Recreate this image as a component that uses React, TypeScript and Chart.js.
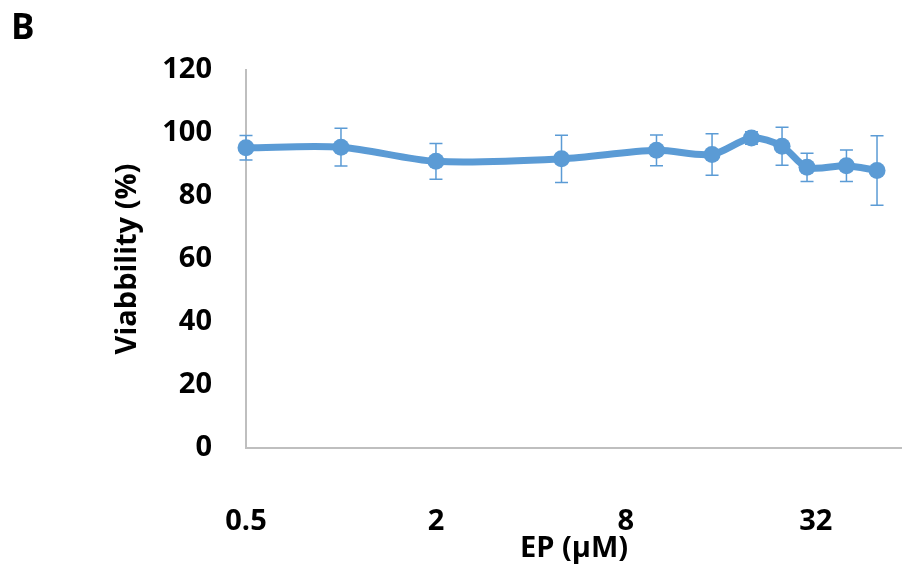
import React, { useEffect, useRef } from 'react';
import { Chart, registerables } from 'chart.js';

Chart.register(...registerables);

const concentrations = [0.5, 1, 2, 5, 10, 15, 20, 25, 30, 40, 50];
const viability = [95.3, 95.5, 91.0, 91.8, 94.5, 93.2, 98.4, 95.8, 89.1, 89.6, 88.1];
const errors = [3.9, 6.0, 5.7, 7.5, 4.9, 6.6, 2.0, 6.0, 4.5, 5.0, 11.0];
const xTicks = [0.5, 2, 8, 32];
const yTicks = [0, 20, 40, 60, 80, 100, 120];

const COLOR = '#5B9BD5';
const AXIS = '#BFBFBF';
const FONT = 'Open Sans';

const errorBarPlugin = {
  id: 'errorBars',
  beforeDatasetsDraw(chart: any) {
    const { ctx, scales } = chart;
    const x = scales.x;
    const y = scales.y;
    ctx.save();
    ctx.strokeStyle = COLOR;
    ctx.lineWidth = 1.5;
    concentrations.forEach((c, i) => {
      const px = x.getPixelForValue(c);
      const top = y.getPixelForValue(viability[i] + errors[i]);
      const bot = y.getPixelForValue(viability[i] - errors[i]);
      const cap = 6.5;
      ctx.beginPath();
      ctx.moveTo(px, top);
      ctx.lineTo(px, bot);
      ctx.moveTo(px - cap, top);
      ctx.lineTo(px + cap, top);
      ctx.moveTo(px - cap, bot);
      ctx.lineTo(px + cap, bot);
      ctx.stroke();
    });
    ctx.restore();
  },
};

export default function App() {
  const canvasRef = useRef<HTMLCanvasElement | null>(null);

  useEffect(() => {
    let chart: Chart | null = null;
    let cancelled = false;
    const build = () => {
      if (cancelled || !canvasRef.current) return;
      const tickFont = { family: FONT, size: 29, weight: 'bold' as const };
      chart = new Chart(canvasRef.current, {
        type: 'line',
        data: {
          datasets: [
            {
              label: 'Viability',
              data: concentrations.map((c, i) => ({ x: c, y: viability[i] })),
              borderColor: COLOR,
              backgroundColor: COLOR,
              borderWidth: 7,
              pointRadius: 8.5,
              pointBackgroundColor: COLOR,
              pointBorderColor: COLOR,
              pointBorderWidth: 0,
              tension: 0.3,
              clip: false as any,
            },
          ],
        },
        options: {
          animation: false,
          responsive: false,
          maintainAspectRatio: false,
          layout: { autoPadding: false, padding: { top: 70, left: 0, right: 0, bottom: 0 } },
          plugins: {
            legend: { display: false },
            tooltip: { enabled: false },
            title: { display: false },
          },
          scales: {
            x: {
              type: 'logarithmic',
              min: 0.5,
              max: 60,
              bounds: 'data',
              afterBuildTicks: (s: any) => {
                s.ticks = xTicks.map((v) => ({ value: v }));
              },
              afterFit: (s: any) => {
                s.height = 123;
              },
              grid: { display: false, drawTicks: false },
              border: { display: true, color: AXIS, width: 2 },
              ticks: {
                padding: 56,
                color: '#000',
                font: tickFont,
                autoSkip: false,
                maxRotation: 0,
                callback: (v: any) => String(v),
              },
              title: {
                display: true,
                text: 'EP (μM)',
                color: '#000',
                font: tickFont,
                padding: { top: 0, bottom: 5 },
              },
            },
            y: {
              type: 'linear',
              min: 0,
              max: 120,
              afterBuildTicks: (s: any) => {
                s.ticks = yTicks.map((v) => ({ value: v }));
              },
              afterFit: (s: any) => {
                s.width = 246;
              },
              grid: { display: false, drawTicks: false },
              border: { display: true, color: AXIS, width: 2 },
              ticks: {
                padding: 34,
                color: '#000',
                font: tickFont,
              },
              title: {
                display: true,
                text: 'Viabbility (%)',
                color: '#000',
                font: tickFont,
                padding: { top: 110, bottom: 0 },
              },
            },
          },
        } as any,
        plugins: [errorBarPlugin],
      });
    };
    const fonts: any = (document as any).fonts;
    if (fonts && fonts.load) {
      fonts.load(`bold 29px "${FONT}"`).then(build, build);
    } else {
      build();
    }
    return () => {
      cancelled = true;
      if (chart) chart.destroy();
    };
  }, []);

  return (
    <div style={{ position: 'absolute', left: 0, top: 0, width: 902, height: 571, background: '#fff' }}>
      <div
        style={{
          position: 'absolute',
          left: 11,
          top: 2,
          fontFamily: FONT,
          fontWeight: 'bold',
          fontSize: 35,
          color: '#000',
          lineHeight: '48px',
        }}
      >
        B
      </div>
      <canvas ref={canvasRef} width={902} height={571} style={{ display: 'block' }} />
    </div>
  );
}
